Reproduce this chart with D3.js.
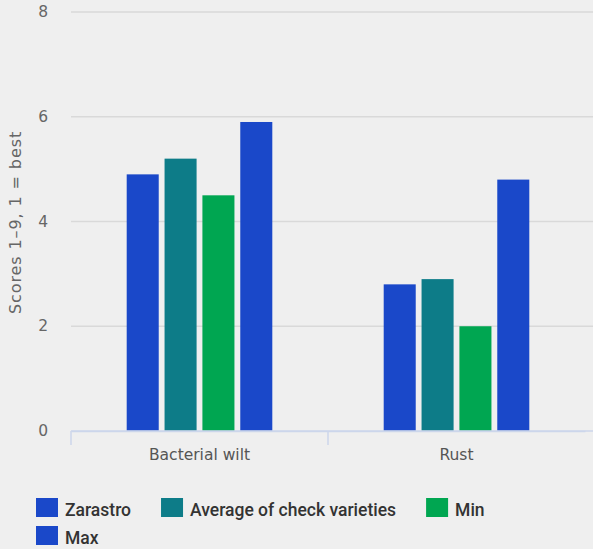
<!DOCTYPE html>
<html><head><meta charset="utf-8">
<script src="https://cdn.jsdelivr.net/npm/d3@7/dist/d3.min.js"></script>
<style>
html,body{margin:0;padding:0;background:#efefef;}
svg{display:block;font-family:"DejaVu Sans",sans-serif;}
</style></head>
<body><svg id="c" width="593" height="549"></svg>
<script>
const categories = ["Bacterial wilt", "Rust"];
const seriesNames = ["Zarastro", "Average of check varieties", "Min", "Max"];
const seriesColors = ["#1a48c9", "#0d7c88", "#00a651", "#1a48c9"];
const zarastro = [4.9, 2.8];
const averageCheck = [5.2, 2.9];
const minValues = [4.5, 2.0];
const maxValues = [5.9, 4.8];
const yTicks = [0, 2, 4, 6, 8];
const yTitle = "Scores 1–9, 1 = best";

const seriesValues = [zarastro, averageCheck, minValues, maxValues];
const svg = d3.select("#c");
const pLeft = 71, pRight = 585, pTop = 12, pBottom = 431;

const x = d3.scaleBand().domain(categories).range([pLeft, pRight]).padding(0);
const bw = x.bandwidth();
const xi = d3.scaleBand().domain(seriesNames).range([55.7, bw - 55.7]).paddingInner(0.154).paddingOuter(0);
const y = d3.scaleLinear().domain([0, 8]).range([pBottom, pTop]);

// gridlines
svg.append("g").selectAll("line").data(yTicks.filter(d => d > 0)).join("line")
  .attr("x1", pLeft).attr("x2", 593).attr("y1", d => y(d)).attr("y2", d => y(d))
  .attr("stroke", "#d9d9d9").attr("stroke-width", 1.5);

// y axis labels
const yAxis = d3.axisLeft(y).tickValues(yTicks).tickSize(0).tickPadding(0);
const ya = svg.append("g").attr("transform", `translate(48,0)`).call(yAxis);
ya.select(".domain").remove();
ya.selectAll("text").attr("font-size", 15.5).attr("fill", "#666").attr("font-family", "DejaVu Sans").attr("dy", "0.3em");

// y title
svg.append("text").attr("transform", `translate(21,${(pTop + pBottom) / 2 + 1}) rotate(-90)`)
  .attr("text-anchor", "middle").attr("font-size", 16).attr("letter-spacing", 0.9).attr("fill", "#666").text(yTitle);

// bars
const g = svg.append("g");
categories.forEach((c, ci) => {
  seriesNames.forEach((s, si) => {
    const v = seriesValues[si][ci];
    g.append("rect").attr("x", x(c) + xi(s)).attr("width", xi.bandwidth())
      .attr("y", y(v)).attr("height", y(0) - y(v)).attr("fill", seriesColors[si]);
  });
});

// x axis
const xAxis = d3.axisBottom(x).tickSize(0).tickPadding(0);
const xa = svg.append("g").attr("transform", `translate(0,${pBottom})`).call(xAxis);
xa.select(".domain").attr("stroke", "#ccd6eb").attr("stroke-width", 1.5);
xa.selectAll("text").attr("font-size", 15.5).attr("fill", "#555").attr("font-family", "DejaVu Sans").attr("y", 29).attr("dy", 0);
const bounds = categories.map(c => x(c));
xa.selectAll(".bt").data(bounds).join("line").attr("class", "bt")
  .attr("x1", d => d).attr("x2", d => d).attr("y1", 0).attr("y2", 14)
  .attr("stroke", "#ccd6eb").attr("stroke-width", 1.5);
xa.append("line").attr("x1", pLeft).attr("x2", 593).attr("y1", 0).attr("y2", 0).attr("stroke", "#ccd6eb").attr("stroke-width", 1.5);

// legend
const lg = svg.append("g");
let lx = 36, ly = 498;
const maxX = 560;
seriesNames.forEach((s, i) => {
  const item = lg.append("g");
  item.append("rect").attr("width", 22).attr("height", 19).attr("fill", seriesColors[i]);
  const t = item.append("text").attr("x", 29).attr("y", 17.5)
    .attr("font-family", "Roboto").attr("font-size", 17.5).attr("font-weight", 500).attr("fill", "#333").text(s);
  const w = 29 + t.node().getComputedTextLength();
  if (lx + w > maxX && lx > 36) { lx = 36; ly += 28; }
  item.attr("transform", `translate(${lx},${ly})`);
  lx += w + 30;
});
</script></body></html>
